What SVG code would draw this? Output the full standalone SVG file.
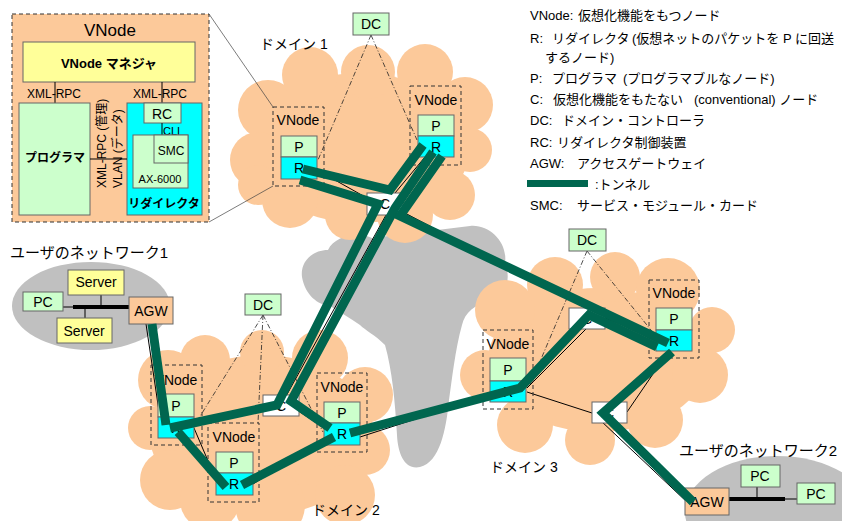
<svg xmlns="http://www.w3.org/2000/svg" width="842" height="521" viewBox="0 0 842 521">
<style>
text{font-family:"Liberation Sans","Noto Sans CJK JP",sans-serif;fill:#000}
.m{text-anchor:middle}
.s14{font-size:14px}
.s12{font-size:12px}
.box{stroke:#666;stroke-width:1}
.g{fill:#CCFFCC}
.c{fill:#00FFFF}
.y{fill:#FFFF99}
.pe{fill:#FCC99A}
.w{fill:#FFFFFF}
.vn{fill:none;stroke:#333;stroke-width:1;stroke-dasharray:4 3}
.dd{fill:none;stroke:#222;stroke-width:0.8;stroke-dasharray:5 2 1 2}
.ln{fill:none;stroke:#000;stroke-width:1}
.fl{fill:none;stroke:#444;stroke-width:0.7}
.tun{fill:none;stroke:#00664F;stroke-width:9;stroke-linejoin:miter;stroke-linecap:butt}
.bus{stroke:#000;stroke-width:4}
.lg{font-size:13px}
</style>
<rect width="842" height="521" fill="#FFFFFF"/>

<!-- backbone gray cloud -->
<g id="backbone" fill="#C0C0C0">
<path d="M302 277 C300 262 312 250 328 250 C335 235 360 232 372 238 L470 226 C490 224 508 243 505 263 C512 280 505 298 490 300 C475 305 465 312 462 325 C455 350 452 380 449 400 C446 430 440 462 420 467 C405 470 398 455 397 435 C395 400 392 370 385 345 C375 335 365 330 360 325 C350 318 340 312 330 306 C318 305 305 295 302 277 Z"/>
</g>

<!-- user networks background -->
<g id="usernet1">
<ellipse cx="91" cy="306" rx="79" ry="44" fill="#C0C0C0"/>
<text x="10" y="258" style="font-size:15px">ユーザのネットワーク1</text>
</g>
<g id="usernet2">
<ellipse cx="777" cy="512" rx="92" ry="56" fill="#C0C0C0"/>
<text x="679" y="456" style="font-size:15px">ユーザのネットワーク2</text>
</g>

<!-- domain clouds -->
<g id="domain1" fill="#FCC99A">
<ellipse cx="360" cy="148" rx="110" ry="75"/>
<circle cx="268" cy="110" r="30"/>
<circle cx="258" cy="160" r="28"/>
<circle cx="310" cy="75" r="28"/>
<circle cx="368" cy="72" r="27"/>
<circle cx="425" cy="72" r="28"/>
<circle cx="465" cy="105" r="28"/>
<circle cx="470" cy="150" r="22"/>
<circle cx="450" cy="195" r="25"/>
<circle cx="405" cy="215" r="28"/>
<circle cx="350" cy="215" r="25"/>
<circle cx="290" cy="200" r="28"/>
<circle cx="258" cy="185" r="20"/>
<text x="260" y="49" style="font-size:14px">ドメイン 1</text>
</g>
<g id="domain2" fill="#FCC99A">
<ellipse cx="262" cy="435" rx="112" ry="80"/>
<circle cx="168" cy="380" r="30"/>
<circle cx="150" cy="428" r="22"/>
<circle cx="170" cy="480" r="30"/>
<circle cx="205" cy="360" r="25"/>
<circle cx="262" cy="352" r="22"/>
<circle cx="320" cy="358" r="28"/>
<circle cx="365" cy="395" r="28"/>
<circle cx="365" cy="450" r="25"/>
<circle cx="345" cy="495" r="30"/>
<circle cx="270" cy="505" r="35"/>
<circle cx="210" cy="500" r="30"/>
<text x="312" y="515" style="font-size:14px">ドメイン 2</text>
</g>
<g id="domain3" fill="#FCC99A">
<ellipse cx="598" cy="360" rx="110" ry="72"/>
<circle cx="505" cy="310" r="30"/>
<circle cx="555" cy="285" r="28"/>
<circle cx="615" cy="277" r="25"/>
<circle cx="668" cy="290" r="32"/>
<circle cx="712" cy="330" r="23"/>
<circle cx="700" cy="375" r="28"/>
<circle cx="655" cy="420" r="28"/>
<circle cx="590" cy="440" r="25"/>
<circle cx="525" cy="425" r="28"/>
<circle cx="485" cy="375" r="25"/>
<text x="490" y="472" style="font-size:14px">ドメイン 3</text>
</g>

<!-- VNode detail -->
<g id="vnode-detail">
<rect x="12" y="14" width="197" height="208" class="pe" stroke="#333" stroke-width="1" stroke-dasharray="4 3"/>
<text x="110" y="36" class="m" style="font-size:17px">VNode</text>
<rect x="23" y="42" width="172" height="40" class="box y"/>
<text x="109" y="68" class="m" style="font-size:13px;font-weight:bold">VNode マネジャ</text>
<line x1="55" y1="82" x2="55" y2="103" class="ln"/>
<line x1="162" y1="82" x2="162" y2="103" class="ln"/>
<text x="27" y="98" class="s12">XML-RPC</text>
<text x="133" y="98" class="s12">XML-RPC</text>
<rect x="19" y="103" width="71" height="112" class="box g"/>
<text x="55" y="162" class="m" style="font-size:12px;font-weight:bold">プログラマ</text>
<rect x="127" y="103" width="75" height="112" class="box c"/>
<rect x="144" y="103" width="37" height="20" class="box g"/>
<text x="162" y="119" class="m s14">RC</text>
<line x1="162" y1="123" x2="162" y2="135" class="ln"/>
<text x="163" y="135" style="font-size:11px">CLI</text>
<rect x="133" y="135" width="55" height="53" class="box g"/>
<rect x="154" y="135" width="34" height="28" class="box g"/>
<text x="171" y="155" class="m" style="font-size:12px">SMC</text>
<text x="160" y="183" class="m" style="font-size:11px">AX-6000</text>
<text x="164" y="208" class="m" style="font-size:12px;font-weight:bold">リダイレクタ</text>
<line x1="90" y1="159" x2="127" y2="159" class="ln"/>
<text transform="translate(106,188) rotate(-90)" class="s12">XML-RPC (管理)</text>
<text transform="translate(122,188) rotate(-90)" class="s12">VLAN (データ)</text>
</g>

<!-- connectors: detail lines, DC control lines, physical links -->
<g id="connectors">
<line x1="209" y1="14" x2="273" y2="107" class="fl"/>
<line x1="209" y1="222" x2="273" y2="186" class="fl"/>
<line x1="371" y1="35" x2="318" y2="160" class="dd"/>
<line x1="371" y1="35" x2="417" y2="140" class="dd"/>
<line x1="263" y1="315" x2="199" y2="418" class="dd"/>
<line x1="263" y1="315" x2="258" y2="423" class="dd"/>
<line x1="263" y1="315" x2="323" y2="432" class="dd"/>
<line x1="587" y1="251" x2="530" y2="385" class="dd"/>
<line x1="587" y1="251" x2="655" y2="335" class="dd"/>
<line x1="146" y1="324" x2="160" y2="418" class="ln"/>
<line x1="194" y1="428" x2="217" y2="482" class="ln"/>
<line x1="297" y1="410" x2="324" y2="428" class="ln"/>
<line x1="253" y1="484" x2="324" y2="440" class="ln"/>
<line x1="285" y1="398" x2="386" y2="215" class="ln"/>
<line x1="317" y1="170" x2="367" y2="198" class="ln"/>
<line x1="395" y1="193" x2="425" y2="157" class="ln"/>
<line x1="403" y1="212" x2="656" y2="345" class="ln"/>
<line x1="360" y1="437" x2="490" y2="395" class="ln"/>
<line x1="527" y1="388" x2="586" y2="329" class="ln"/>
<line x1="605" y1="318" x2="656" y2="338" class="ln"/>
<line x1="527" y1="392" x2="592" y2="413" class="ln"/>
<line x1="627" y1="412" x2="668" y2="352" class="ln"/>
<line x1="600" y1="420" x2="688" y2="503" class="ln"/>
</g>

<!-- domain 1 nodes -->
<g id="d1-dc"><rect x="353" y="13" width="36" height="22" class="box g"/><text x="371" y="29" class="m s14">DC</text></g>
<g id="d1-vnode-left">
<rect x="273" y="107" width="51" height="79" class="vn"/>
<text x="298" y="125" class="m s14">VNode</text>
<rect x="281" y="136" width="36" height="21" class="box g"/><text x="299" y="152" class="m s14">P</text>
<rect x="281" y="157" width="36" height="22" class="box c"/><text x="299" y="173" class="m s14">R</text>
</g>
<g id="d1-vnode-right">
<rect x="410" y="86" width="51" height="79" class="vn"/>
<text x="436" y="105" class="m s14">VNode</text>
<rect x="418" y="115" width="36" height="21" class="box g"/><text x="436" y="131" class="m s14">P</text>
<rect x="418" y="136" width="36" height="21" class="box c"/><text x="436" y="152" class="m s14">R</text>
</g>
<g id="d1-c"><rect x="367" y="193" width="36" height="22" class="box w"/><text x="385" y="209" class="m s14">C</text></g>

<!-- domain 2 nodes -->
<g id="d2-dc"><rect x="245" y="294" width="36" height="21" class="box g"/><text x="263" y="310" class="m s14">DC</text></g>
<g id="d2-vnode-left">
<rect x="151" y="365" width="51" height="80" class="vn"/>
<text x="176" y="385" class="m s14">VNode</text>
<rect x="158" y="394" width="36" height="23" class="box g"/><text x="176" y="411" class="m s14">P</text>
<rect x="158" y="417" width="36" height="21" class="box c"/><text x="176" y="433" class="m s14">R</text>
</g>
<g id="d2-vnode-mid">
<rect x="208" y="423" width="51" height="79" class="vn"/>
<text x="234" y="442" class="m s14">VNode</text>
<rect x="216" y="452" width="37" height="21" class="box g"/><text x="234" y="468" class="m s14">P</text>
<rect x="216" y="473" width="37" height="22" class="box c"/><text x="234" y="489" class="m s14">R</text>
</g>
<g id="d2-vnode-right">
<rect x="317" y="373" width="50" height="79" class="vn"/>
<text x="342" y="392" class="m s14">VNode</text>
<rect x="324" y="402" width="36" height="21" class="box g"/><text x="342" y="418" class="m s14">P</text>
<rect x="324" y="423" width="36" height="22" class="box c"/><text x="342" y="439" class="m s14">R</text>
</g>
<g id="d2-c"><rect x="263" y="395" width="36" height="21" class="box w"/><text x="281" y="411" class="m s14">C</text></g>

<!-- domain 3 nodes -->
<g id="d3-dc"><rect x="569" y="229" width="37" height="22" class="box g"/><text x="587" y="245" class="m s14">DC</text></g>
<g id="d3-vnode-left">
<rect x="483" y="330" width="50" height="79" class="vn"/>
<text x="508" y="349" class="m s14">VNode</text>
<rect x="490" y="358" width="36" height="23" class="box g"/><text x="508" y="375" class="m s14">P</text>
<rect x="490" y="381" width="36" height="21" class="box c"/><text x="508" y="397" class="m s14">R</text>
</g>
<g id="d3-vnode-right">
<rect x="649" y="280" width="50" height="78" class="vn"/>
<text x="674" y="298" class="m s14">VNode</text>
<rect x="656" y="308" width="36" height="22" class="box g"/><text x="674" y="324" class="m s14">P</text>
<rect x="656" y="330" width="36" height="21" class="box c"/><text x="674" y="346" class="m s14">R</text>
</g>
<g id="d3-c-top"><rect x="569" y="308" width="36" height="21" class="box w"/><text x="587" y="324" class="m s14">C</text></g>
<g id="d3-c-bottom"><rect x="592" y="402" width="35" height="21" class="box w"/><text x="609" y="418" class="m s14">C</text></g>

<!-- user network 1 nodes -->
<g id="un1-links">
<line x1="63" y1="307" x2="73" y2="307" class="ln"/>
<line x1="73" y1="307" x2="129" y2="307" class="bus"/>
<line x1="101" y1="295" x2="101" y2="307" class="ln"/>
<line x1="85" y1="307" x2="85" y2="318" class="ln"/>
</g>
<g id="un1-pc"><rect x="23" y="292" width="40" height="19" class="box g"/><text x="43" y="307" class="m s14">PC</text></g>
<g id="un1-server1"><rect x="68" y="270" width="56" height="25" class="box y"/><text x="96" y="287" class="m s14">Server</text></g>
<g id="un1-server2"><rect x="57" y="318" width="55" height="25" class="box y"/><text x="84" y="336" class="m s14">Server</text></g>
<g id="un1-agw"><rect x="129" y="297" width="44" height="27" class="box pe"/><text x="151" y="316" class="m s14">AGW</text></g>

<!-- user network 2 nodes -->
<g id="un2-links">
<line x1="729" y1="499" x2="785" y2="499" class="bus"/>
<line x1="785" y1="499" x2="797" y2="499" class="ln"/>
<line x1="757" y1="487" x2="757" y2="499" class="ln"/>
</g>
<g id="un2-agw"><rect x="685" y="488" width="44" height="27" class="box pe"/><text x="707" y="507" class="m s14">AGW</text></g>
<g id="un2-pc1"><rect x="741" y="465" width="39" height="22" class="box g"/><text x="760" y="481" class="m s14">PC</text></g>
<g id="un2-pc2"><rect x="797" y="483" width="38" height="21" class="box g"/><text x="816" y="499" class="m s14">PC</text></g>

<!-- tunnels -->
<g id="tunnels" class="tun">
<polyline points="152,324 166,425"/>
<polyline points="303,169 390,190 423,145"/>
<polyline points="300,180 378,204 277,405 170,428"/>
<polyline points="433,152 395,208 291,401 330,428"/>
<polyline points="442,156 400,216 668,343"/>
<polyline points="178,432 226,487"/>
<polyline points="242,485 334,437"/>
<polyline points="350,433 520,388 589,315 657,347"/>
<polyline points="672,352 603,413 693,502"/>
</g>

<!-- legend -->
<g id="legend" class="lg">
<text y="20" class="lg"><tspan x="530">VNode:</tspan><tspan x="578">仮想化機能をもつノード</tspan></text>
<text y="43" class="lg"><tspan x="530">R:</tspan><tspan x="552">リダイレクタ</tspan><tspan x="632">(仮想ネットのパケットを P に回送</tspan></text>
<text y="62" class="lg"><tspan x="545">するノード)</tspan></text>
<text y="83" class="lg"><tspan x="530">P:</tspan><tspan x="552">プログラマ</tspan><tspan x="623">(プログラマブルなノード)</tspan></text>
<text y="104" class="lg"><tspan x="530">C:</tspan><tspan x="553">仮想化機能をもたない</tspan><tspan x="694">(conventional) ノード</tspan></text>
<text y="125" class="lg"><tspan x="530">DC:</tspan><tspan x="562">ドメイン・コントローラ</tspan></text>
<text y="147" class="lg"><tspan x="530">RC:</tspan><tspan x="557">リダイレクタ制御装置</tspan></text>
<text y="168" class="lg"><tspan x="530">AGW:</tspan><tspan x="577">アクセスゲートウェイ</tspan></text>
<rect x="527" y="180" width="61" height="7" fill="#00664F"/>
<text y="189" class="lg"><tspan x="595">:トンネル</tspan></text>
<text y="210" class="lg"><tspan x="530">SMC:</tspan><tspan x="577">サービス・モジュール・カード</tspan></text>
</g>
</svg>
